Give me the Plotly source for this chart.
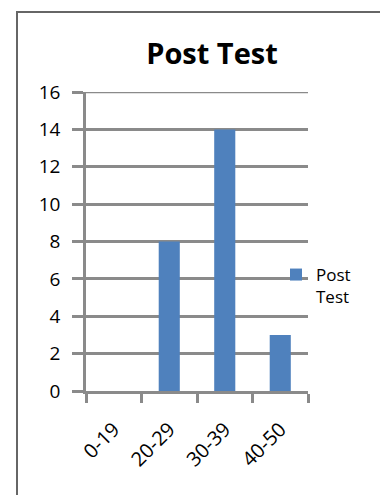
import plotly.graph_objects as go

# Age groups and the number of students in each after the test
categories = ["0-19", "20-29", "30-39", "40-50"]
post_test = [0, 8, 14, 3]
y_ticks = [0, 2, 4, 6, 8, 10, 12, 14, 16]
y_max = 16

W, H = 380, 495
L, R, T, B = 86, 72, 92, 104
plot_w = W - L - R
plot_h = H - T - B

GRID = "#8a8a8a"
FONT = "Open Sans"

fig = go.Figure(
    go.Bar(
        x=categories,
        y=post_test,
        name="Post<br>Test",
        marker=dict(color="#4F81BD", line=dict(width=0)),
        width=0.38,
    )
)

# outer chart frame (runs off the right and bottom edges)
fig.add_shape(
    type="rect", xref="paper", yref="paper",
    x0=(17 - L) / plot_w, x1=(W + 10 - L) / plot_w,
    y0=(plot_h + T - (H + 10)) / plot_h, y1=(plot_h + T - 12) / plot_h,
    line=dict(color="#666666", width=2), fillcolor="rgba(0,0,0,0)", layer="below",
)
# gridline at the top of the value range
fig.add_shape(
    type="line", xref="paper", yref="y",
    x0=0, x1=1, y0=y_max, y1=y_max,
    line=dict(color=GRID, width=2.5), layer="below",
)

fig.update_layout(
    width=W, height=H,
    margin=dict(l=L, r=R, t=T, b=B),
    paper_bgcolor="white", plot_bgcolor="white",
    font=dict(family=FONT, color="#000000"),
    title=dict(
        text="<b>Post Test</b>",
        font=dict(family=FONT, size=29, color="#000000"),
        xref="paper", x=(212 - L) / plot_w, xanchor="center",
        yref="container", y=1 - 54 / H, yanchor="middle",
    ),
    showlegend=True,
    legend=dict(
        x=(276 - L) / plot_w, xanchor="left",
        y=(plot_h + T - 257) / plot_h, yanchor="top",
        bgcolor="rgba(0,0,0,0)", borderwidth=0,
        font=dict(family=FONT, size=17, color="#000000"),
        valign="top",
        itemwidth=30,
    ),
    bargap=0.62,
)

fig.update_xaxes(
    type="category",
    tickangle=-45,
    tickfont=dict(family=FONT, size=20, color="#000000"),
    ticklabelstandoff=16,
    showline=True, linecolor=GRID, linewidth=2.5,
    ticks="outside", tickson="boundaries", ticklen=9, tickwidth=2.5, tickcolor=GRID,
    showgrid=False,
    range=[-0.5, 3.5],
    fixedrange=True,
)

fig.update_yaxes(
    range=[0, y_max],
    tickvals=y_ticks,
    tickfont=dict(family=FONT, size=19, color="#000000"),
    ticklabelstandoff=8,
    showline=True, linecolor=GRID, linewidth=2.5,
    ticks="outside", ticklen=11, tickwidth=2.5, tickcolor=GRID,
    showgrid=True, gridcolor=GRID, gridwidth=2.5,
    zeroline=False,
    fixedrange=True,
)

fig.write_html("out.html")
